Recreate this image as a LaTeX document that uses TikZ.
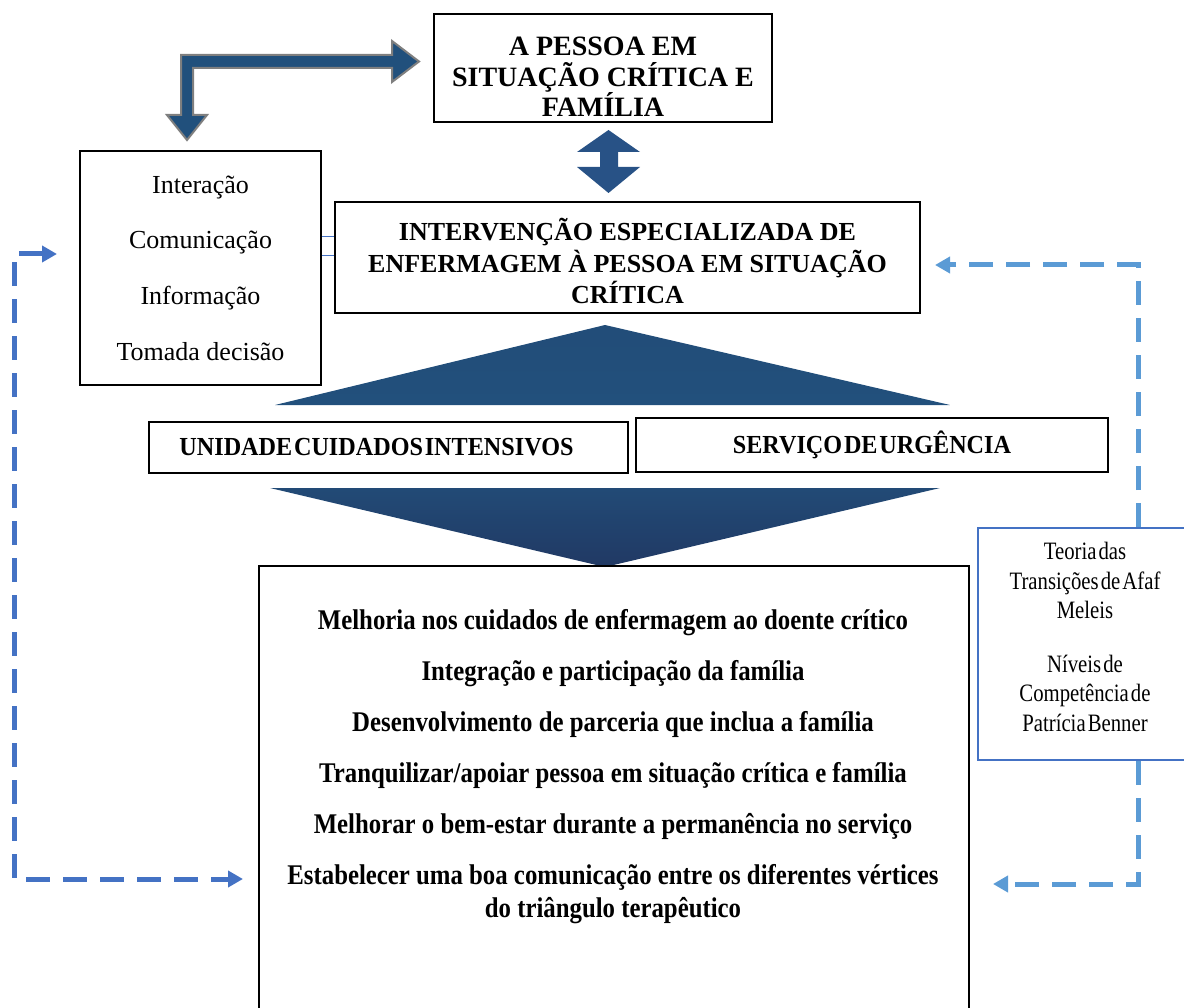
\documentclass[tikz,border=0pt]{standalone}
\usepackage{fontspec}
\setmainfont{Liberation Serif}
\newfontfamily\rapatA[FakeStretch=0.87]{Liberation Serif}
\newfontfamily\rapatB[FakeStretch=0.93,WordSpace=0.3]{Liberation Serif}
\newfontfamily\rapatC[FakeStretch=0.83,WordSpace=0.4]{Liberation Serif}
\usetikzlibrary{arrows.meta}
\definecolor{azulSeta}{RGB}{33,80,124}
\definecolor{azulDuplo}{RGB}{40,82,134}
\definecolor{azulTopo}{RGB}{34,80,124}
\definecolor{azulBase}{RGB}{33,57,100}
\definecolor{azulLinha}{RGB}{68,114,196}
\definecolor{azulClaro}{RGB}{91,155,213}
\definecolor{cinzaSeta}{RGB}{127,127,127}

\begin{document}
\begin{tikzpicture}[x=1pt,y=-1pt,
    caixa/.style={draw, line width=1.8pt, align=center, inner sep=0pt},
    tracejado/.style={line width=5pt, dash pattern=on 24pt off 13pt},
    ponta/.tip={Triangle[length=15pt,width=16pt]}
  ]
        \useasboundingbox (0,0) rectangle (1184,1008);

        %SETA DOBRADA
        \filldraw[fill=azulSeta, draw=cinzaSeta, line width=2pt, line join=miter]
            (181,55) -- (392,55) -- (392,41) -- (419,61.5) -- (392,82) -- (392,68)
            -- (193,68) -- (193,115) -- (207,115) -- (187,140) -- (167,115)
            -- (181,115) -- cycle;

        %CAIXAS
        \node[caixa, minimum width=338pt, minimum height=108pt] (pessoa) at (603,68) {};
        \node[align=center, font=\fontsize{28}{30.5}\selectfont\bfseries] (pessoaTexto) at (603,77)
              {A PESSOA EM\\SITUAÇÃO CRÍTICA E\\FAMÍLIA};
        \node[caixa, minimum width=241pt, minimum height=234pt,
              font=\fontsize{26}{55.7}\selectfont] (interacao) at (200.5,268)
              {Interação\\Comunicação\\Informação\\Tomada decisão};
        \node[caixa, minimum width=585pt, minimum height=111pt] (intervencao) at (627.5,257.5) {};
        \node[align=center, font=\fontsize{26}{31.5}\selectfont\bfseries] (intervencaoTexto) at (627.5,261)
              {INTERVENÇÃO ESPECIALIZADA DE\\ENFERMAGEM À PESSOA EM SITUAÇÃO\\CRÍTICA};

        %SETA DUPLA
        \fill[azulDuplo] (608.5,130) -- (640,152) -- (618,152) -- (618,167) -- (640,167)
            -- (608.5,193) -- (577,167) -- (600,167) -- (600,152) -- (577,152) -- cycle;

        %LIGACAO
        \draw[azulLinha, line width=1pt] (interacao.east |- 0,237) -- (intervencao.west |- 0,237);
        \draw[azulLinha, line width=1pt] (interacao.east |- 0,256) -- (intervencao.west |- 0,256);

        %TRIANGULOS
        \shade[top color=azulTopo!85!azulBase, bottom color=azulTopo]
            (275,405) -- (605,325) -- (950,405) -- cycle;
        \shade[top color=azulTopo!75!azulBase, bottom color=azulBase]
            (270,488) -- (940,488) -- (605,567) -- cycle;

        \node[caixa, minimum width=479pt, minimum height=51pt,
              font=\rapatB\fontsize{26}{30}\selectfont\bfseries] (uci) at (388.5,447.5)
              {\hspace*{-24pt}UNIDADE CUIDADOS INTENSIVOS};
        \node[caixa, minimum width=472pt, minimum height=54pt,
              font=\rapatB\fontsize{26}{30}\selectfont\bfseries] (urgencia) at (872,445)
              {SERVIÇO DE URGÊNCIA};

        %RESULTADOS
        \node[caixa, minimum width=710pt, minimum height=460pt, anchor=north west] (resultado) at (258,565) {};
        \begin{scope}[every node/.style={font=\rapatA\fontsize{28.5}{33}\selectfont\bfseries, align=center}]
            \node (r1) at (613,623) {Melhoria nos cuidados de enfermagem ao doente crítico};
            \node (r2) at (613,674) {Integração e participação da família};
            \node (r3) at (613,724) {Desenvolvimento de parceria que inclua a família};
            \node (r4) at (613,775) {Tranquilizar/apoiar pessoa em situação crítica e família};
            \node (r5) at (613,826) {Melhorar o bem-estar durante a permanência no serviço};
            \node (r6) at (613,894.5) {Estabelecer uma boa comunicação entre os diferentes vértices\\do triângulo terapêutico};
        \end{scope}

        %TEORIAS
        \node[caixa, draw=azulLinha, line width=2pt, minimum width=212pt, minimum height=232pt] (teoria) at (1084,644) {};
        \node[align=center, font=\rapatC\fontsize{25}{29.5}\selectfont] (teoriaTexto) at (1085,637)
              {Teoria das\\Transições de Afaf\\Meleis\\[24pt]Níveis de\\Competência de\\Patrícia Benner};

        %TRACEJADO
        \coordinate (alvoDireita) at (935,265);
        \coordinate (alvoBaixo) at (993,884);
        \coordinate (alvoEsquerda) at (57,254);
        \coordinate (canto) at (14,254);
        \coordinate (alvoResultado) at (243,879);
        \draw[tracejado, azulClaro, -{ponta}] ([xshift=54pt]teoria.north) |- (alvoDireita);
        \draw[tracejado, azulClaro, -{ponta}] ([xshift=54pt]teoria.south) |- (alvoBaixo);
        \draw[tracejado, azulLinha, {ponta}-{ponta}] (alvoEsquerda) -- (canto) |- (alvoResultado);
\end{tikzpicture}
\end{document}
